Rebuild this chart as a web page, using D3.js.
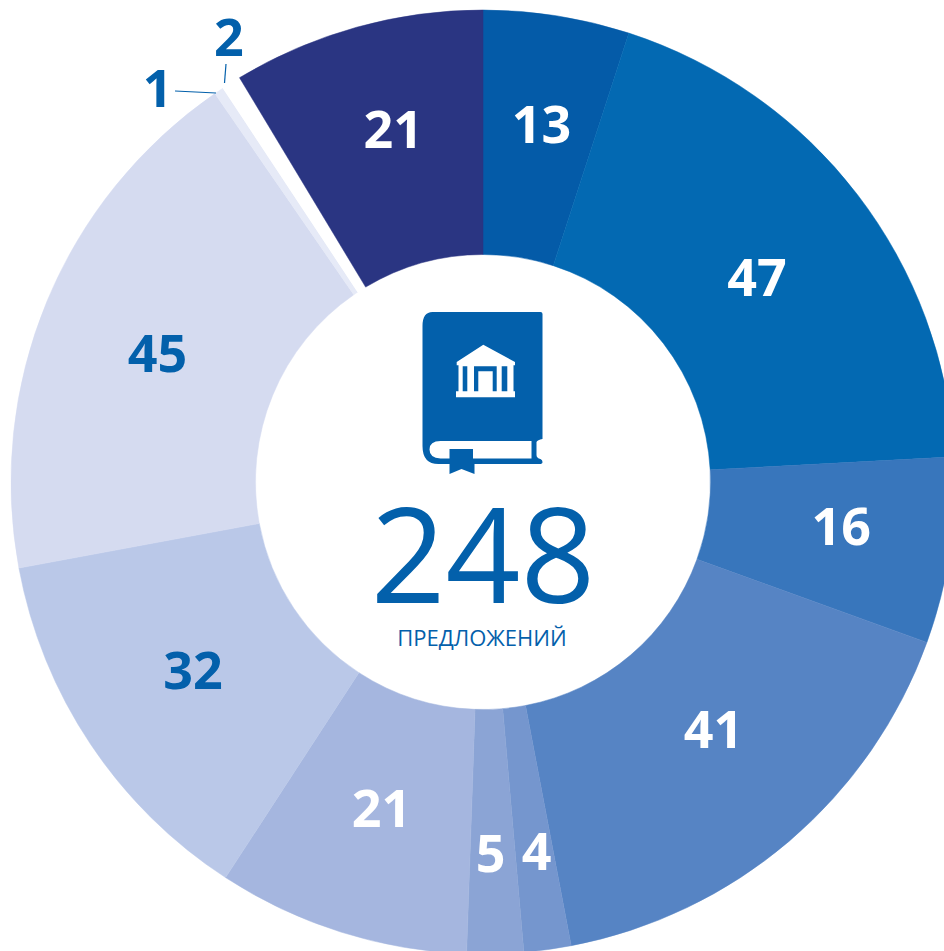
<!DOCTYPE html>
<html>
<head>
<meta charset="utf-8">
<script src="https://d3js.org/d3.v7.min.js"></script>
<style>
  html, body { margin: 0; padding: 0; background: #fff; overflow: hidden; }
  text { font-family: "Open Sans", sans-serif; }
</style>
</head>
<body>
<svg id="chart" width="944" height="951"></svg>
<script>
// подписи секторов по часовой стрелке от 12 часов
const values = [13, 47, 16, 41, 4, 5, 21, 32, 45, 1, 2, 21];
// размеры секторов как они нарисованы в оригинале (чуть отличаются от подписей)
const sliceSizes = [12.4, 47.5, 15.8, 40.9, 4.0, 4.8, 21.4, 32.0, 45.4, 0.8, 1.65, 21.4];
const sliceColors = ["#045ba8", "#0369b2", "#3876bc", "#5684c4", "#7596ce", "#8ba4d5",
  "#a5b6df", "#bac8e8", "#d5dbf0", "#e6eaf7", "#ffffff", "#2a3582"];
const labelColors = ["#fff", "#fff", "#fff", "#fff", "#fff", "#fff",
  "#fff", "#0360ab", "#0360ab", "#0360ab", "#0360ab", "#fff"];
const total = "248";
const totalCaption = "ПРЕДЛОЖЕНИЙ";

// подписи: радиус и поправка к углу середины сектора
const labelRadius = [362, 342, 361, 338, 373, 371, 342, 346, 350, 511, 512, 364];
const labelShift = [0.3, 0.8, -1.3, -2.55, -0.4, 0.3, -0.25, 0.7, -0.85, -5.5, 2.5, 1.25];

const cx = 483, cy = 482, outerR = 472, innerR = 227.5;
const blue = "#0360ab";

const svg = d3.select("#chart");
const g = svg.append("g").attr("transform", `translate(${cx},${cy})`);

const pie = d3.pie().sort(null).value((d) => d);
const arcs = pie(sliceSizes);
const arc = d3.arc().innerRadius(innerR).outerRadius(outerR);

g.selectAll("path.slice")
  .data(arcs)
  .join("path")
  .attr("class", "slice")
  .attr("d", arc)
  .attr("fill", (d, i) => sliceColors[i])
  // чтобы между секторами не просвечивал фон
  .attr("stroke", (d, i) => (sliceColors[i] === "#ffffff" ? "none" : sliceColors[i]))
  .attr("stroke-width", 0.5);

g.selectAll("text.value")
  .data(arcs)
  .join("text")
  .attr("class", "value")
  .attr("transform", (d, i) => {
    const a = (d.startAngle + d.endAngle) / 2 + (labelShift[i] * Math.PI) / 180;
    return `translate(${labelRadius[i] * Math.sin(a)},${-labelRadius[i] * Math.cos(a)})`;
  })
  .attr("text-anchor", "middle")
  .attr("dy", "0.36em")
  .attr("font-size", 52)
  .attr("font-weight", 700)
  .attr("fill", (d, i) => labelColors[i])
  .text((d, i) => values[i]);

// выноски к секторам 1 и 2
const leaders = svg.append("g").attr("stroke", blue).attr("stroke-width", 1.2);
leaders.append("line").attr("x1", 175).attr("y1", 91).attr("x2", 216).attr("y2", 93);
leaders.append("line").attr("x1", 226).attr("y1", 64).attr("x2", 224.5).attr("y2", 83);

// значок: книга со зданием
const icon = svg.append("g").attr("transform", "translate(422.5,312)");
icon.append("path")
  .attr("fill", blue)
  .attr("d", "M10 0H118Q120 0 120 2V127Q115 128 114 130V143Q114 146 118 147Q120 148 120 150Q120 152 117 152H52V162L39 157L27 162V152H16Q0 152 0 134V14Q0 0 10 0Z");
icon.append("path")
  .attr("fill", "#fff")
  .attr("d", "M109 129V146.5H50.5V137H27V146.5H18Q7 146 7 137.5Q7 129 18 129Z");
// здание
icon.append("path")
  .attr("fill", "#fff")
  .attr("d", "M60.8 32.7L92.5 50V53.3H91V79.3H92.5V85.3H33.5V79.3H36V53.3H34.2V50Z");
icon.append("path")
  .attr("fill", blue)
  .attr("d", "M40.2 54.3H44.8V79.3H40.2ZM79.2 54.3H84.8V79.3H79.2ZM51.5 54.3H74.2V79.3H70.2V59.3H55.8V79.3H51.5Z");

svg.append("text")
  .attr("x", 483).attr("y", 603)
  .attr("text-anchor", "middle")
  .attr("font-size", 131)
  .attr("fill", blue)
  .text(total);

svg.append("text")
  .attr("x", 482).attr("y", 646)
  .attr("text-anchor", "middle")
  .attr("font-size", 22)
  .attr("fill", blue)
  .text(totalCaption);
</script>
</body>
</html>
